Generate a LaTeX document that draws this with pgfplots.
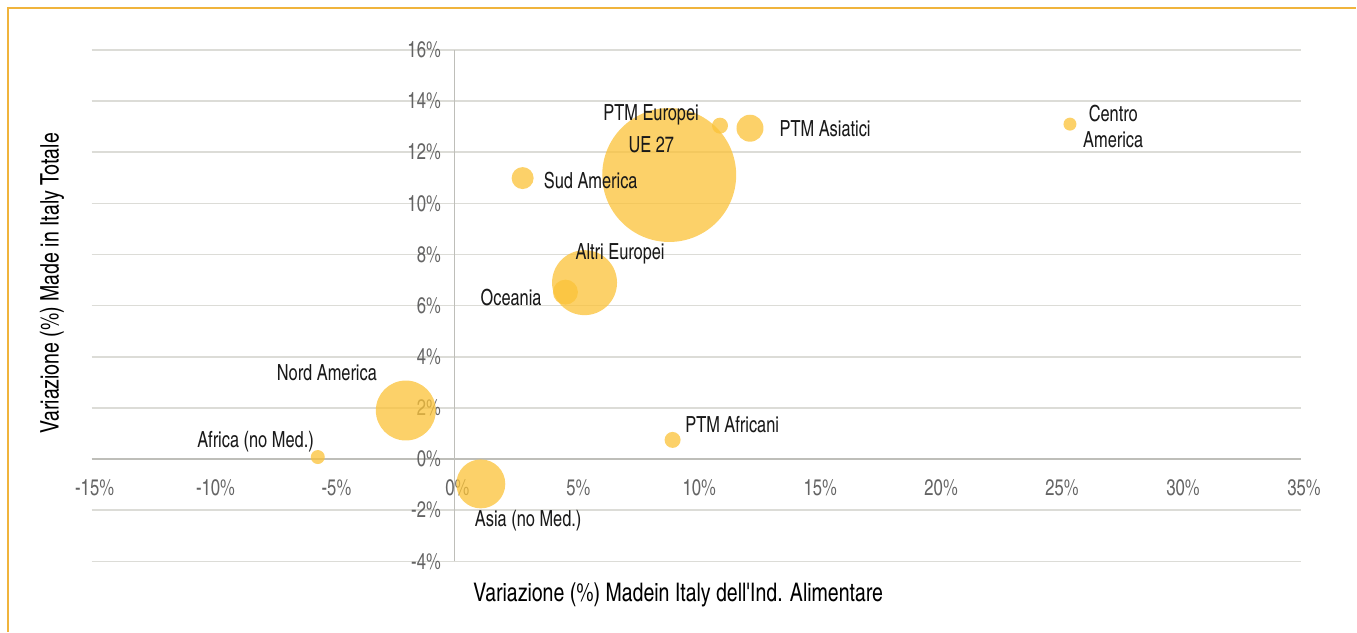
\documentclass[border=0pt]{standalone}
\usepackage{fontspec}
\setmainfont{texgyreheroscn}[Extension=.otf, UprightFont=*-regular, BoldFont=*-bold]
\newfontfamily\labfont{texgyreheroscn}[Extension=.otf, UprightFont=*-regular, FakeStretch=0.9]
\newfontfamily\titfont{texgyreheroscn}[Extension=.otf, UprightFont=*-regular, FakeStretch=0.93]
\usepackage{pgfplots}
\usepackage{pgfplotstable}
\pgfplotsset{compat=1.18}
\definecolor{frameor}{RGB}{240,180,60}
\definecolor{gridc}{RGB}{220,220,215}
\definecolor{axc}{RGB}{190,190,185}
\definecolor{tickc}{RGB}{100,100,100}
\definecolor{bubc}{RGB}{251,194,55}
\pgfplotsset{
  layers/mylayers/.define layer set={axis background,axis grid,axis lines,main,axis ticks,axis tick labels,axis descriptions,axis foreground}{},
}
\pgfplotstableread{
x      y      r
8.88   11.11  33.5
10.98  13.04  4.0
12.22  12.94  6.75
2.82   10.99  5.5
5.38   6.90   16.25
4.59   6.53   6.25
-2.01  1.90   15.0
-5.65  0.08   3.5
1.09   -0.97  12.25
9.02   0.75   4.0
25.45  13.10  3.25
}\bubbles
\begin{document}
\begin{tikzpicture}
\path (-45.85pt,-35.15pt) rectangle (632.65pt,280.85pt);
\draw[frameor, line width=0.8pt] (-41.85pt,-35.15pt) -- (-41.85pt,276.85pt) -- (632.65pt,276.85pt);
\begin{axis}[
  set layers=mylayers,
  at={(0pt,0pt)}, anchor=south west,
  scale only axis, width=605pt, height=255.85pt,
  xmin=-15, xmax=35, ymin=-4, ymax=16,
  axis lines=middle,
  axis line style={-, draw=axc, line width=0.8pt},
  hide obscured x ticks=false, hide obscured y ticks=false,
  xtick={-15,-10,...,35}, ytick={-4,-2,...,16},
  major tick length=0pt,
  ymajorgrids, grid style={draw=gridc, line width=0.8pt},
  /pgf/number format/assume math mode=true,
  xticklabel={\pgfmathprintnumber{\tick}\%},
  yticklabel={\pgfmathprintnumber{\tick}\%},
  tick label style={font=\labfont\fontsize{11.3pt}{13pt}\selectfont, text=tickc, inner sep=0pt},
  xticklabel style={anchor=north, yshift=-10pt, xshift=1.5pt},
  yticklabel style={anchor=east, xshift=-6.6pt},
  xlabel={Variazione (\%) Madein Italy dell'Ind. Alimentare},
  ylabel={Variazione (\%) Made in Italy Totale},
  xlabel style={at={(axis description cs:0.485,-0.0651)}, anchor=center, font=\titfont\fontsize{12.8pt}{15pt}\selectfont},
  ylabel style={at={(axis description cs:-0.0328,0.5437)}, anchor=center, rotate=90, font=\titfont\fontsize{12.8pt}{15pt}\selectfont},
  clip=false,
]
\addplot[scatter, only marks, mark=*,
  mark options={draw=bubc, draw opacity=0, line width=0pt, fill=bubc, fill opacity=0.75},
  scatter/use mapped color={draw=bubc, fill=bubc},
  visualization depends on={\thisrow{r} \as \rad},
  scatter/@pre marker code/.append style={/tikz/mark size=\rad}]
  table[x=x, y=y] {\bubbles};
\coordinate (l1) at (axis cs:8.13,13.45);
\coordinate (l2) at (axis cs:8.14,12.29);
\coordinate (l3) at (axis cs:13.43,12.91);
\coordinate (l4) at (axis cs:3.68,10.89);
\coordinate (l5) at (axis cs:6.85,8.03);
\coordinate (l6) at (axis cs:3.62,6.32);
\coordinate (l7) at (axis cs:-3.19,3.36);
\coordinate (l8) at (axis cs:-5.80,0.69);
\coordinate (l9) at (axis cs:0.83,-2.40);
\coordinate (l10) at (axis cs:9.53,1.34);
\coordinate (l11) at (axis cs:27.24,13.00);
\end{axis}
\begin{scope}[every node/.style={font=\labfont\fontsize{11.1pt}{13pt}\selectfont, text=black!90, inner sep=0pt}]
\node[anchor=center] at (l1) {PTM Europei};
\node[anchor=center] at (l2) {UE 27};
\node[anchor=west] at (l3) {PTM Asiatici};
\node[anchor=west] at (l4) {Sud America};
\node[anchor=center] at (l5) {Altri Europei};
\node[anchor=east] at (l6) {Oceania};
\node[anchor=east] at (l7) {Nord America};
\node[anchor=east] at (l8) {Africa (no Med.)};
\node[anchor=west] at (l9) {Asia (no Med.)};
\node[anchor=west] at (l10) {PTM Africani};
\node[anchor=center, align=center] at (l11) {Centro\\America};
\end{scope}
\end{tikzpicture}
\end{document}
